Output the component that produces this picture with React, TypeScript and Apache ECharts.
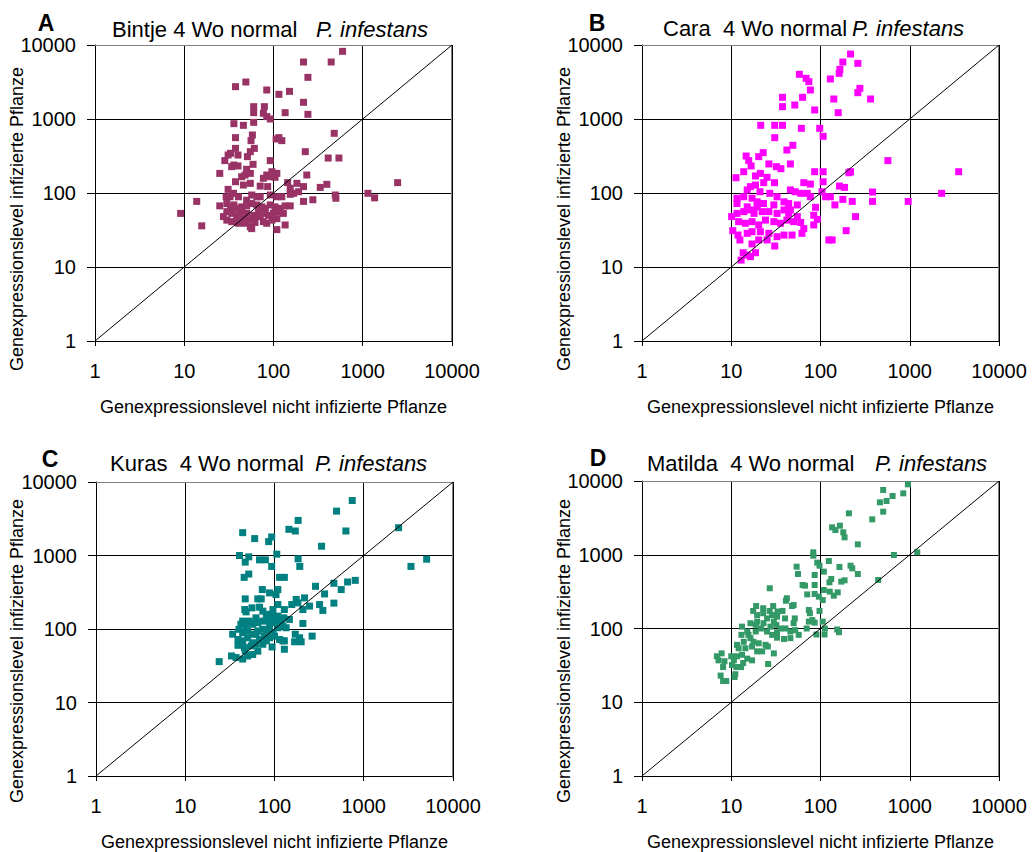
import React, { useEffect, useRef } from "react";
import * as echarts from "echarts";

// ---------- data ----------
const AXIS_MIN = 1;
const AXIS_MAX = 10000;
const DIAGONAL = [
  [1, 1],
  [10000, 10000],
];
const PANEL_LETTERS = ["A", "B", "C", "D"];
const CULTIVAR_TITLES = ["Bintje 4 Wo normal", "Cara  4 Wo normal", "Kuras  4 Wo normal", "Matilda  4 Wo normal"];
const PATHOGEN = "P. infestans";
const X_TITLE = "Genexpressionslevel nicht infizierte Pflanze";
const Y_TITLE = "Genexpressionslevel infizierte Pflanze";

const BINTJE = [
  [594, 8210], [217, 5890], [443, 5890], [243, 3656], [37.5, 2735], [49, 3162], [84, 2466], [115, 2155], [151, 2363], [217, 1679],
  [60, 1468], [79, 1468], [60, 1218], [77, 1194], [84, 1077], [92, 1000], [135, 1218], [243, 1157], [36, 865], [46, 821], [60, 901],
  [37.5, 560], [58, 608], [56, 510], [107, 537], [124, 510], [115, 560], [37.5, 401], [61, 401], [55, 362], [33, 344], [31, 326], [40, 326], [51, 310],
  [28.5, 274], [92, 274], [59, 244], [36, 239], [34, 227], [40, 232], [50, 209], [479, 640], [227, 362], [410, 297], [541, 297],
  [25, 184], [44, 166], [48, 175], [55, 184], [96, 194], [109, 184], [84, 175], [92, 166], [77, 158], [104, 163], [236, 175],
  [37.5, 142], [46, 128], [55, 135], [71, 124], [86, 122], [144, 138], [183, 135], [217, 122], [154, 116], [168, 99], [191, 104], [334, 119], [396, 131],
  [2459, 138], [31, 112], [29.5, 89], [35.6, 99], [40.5, 89], [57, 94], [71, 89], [92, 94], [109, 89], [124, 89], [154, 96],
  [492, 94], [500, 85], [1143, 99], [1358, 86], [13.8, 77], [217, 77], [276, 81], [9.1, 53], [15.7, 36],
  [25, 67], [30, 72], [33, 65], [36, 69], [39, 62], [44, 65], [50, 67], [57, 72], [65, 69], [74, 65], [81, 62], [92, 69], [104, 65], [119, 62], [135, 67], [154, 67],
  [30, 56], [34, 53], [39, 50], [44, 56], [50, 53], [60, 50], [68, 56], [77, 53], [88, 50], [100, 53], [114, 56], [129, 53],
  [30, 43], [34, 41], [39, 43], [46, 41], [52, 43], [60, 45], [77, 41], [84, 39], [96, 43], [109, 45], [135, 37], [40.5, 39], [48, 39], [55, 35], [57, 33],
  [109, 32], [27.5, 48], [62, 40], [40.5, 48], [71, 48], [44, 45], [32.6, 89], [65, 89], [50, 80],
];

const CARA = [
  [217, 7550], [178, 5890], [262, 5650], [165, 4690], [162, 4140], [58, 4018], [69, 3548], [74, 3198], [77, 2466], [129, 3475],
  [276, 2596], [262, 2269], [364, 1862], [141, 1862], [37.5, 1963], [37.5, 1468], [51.5, 1545], [63, 1963], [86, 1324], [158, 1218],
  [21.4, 821], [30.7, 821], [37.5, 821], [61, 748], [98, 748], [107, 583], [30.7, 560], [49, 441], [42, 381], [22.8, 351], [20.3, 310], [14.7, 316], [15.7, 274], [16.7, 232], [26.4, 247], [32, 227], [36, 213], [46, 247],
  [569, 274], [3532, 194], [11.3, 161], [13.8, 194], [18.7, 170], [21.2, 184], [25.2, 163], [23.1, 138], [30.5, 138],
  [86, 194], [107, 194], [107, 142], [77, 132], [65, 138], [208, 188], [217, 194], [163, 124], [186, 119],
  [383, 103], [383, 77], [962, 77], [2275, 99], [227, 77], [178, 82], [145, 69],
  [15.1, 110], [11.6, 85], [13.8, 89], [17.1, 85], [19.5, 76], [16.4, 122], [18.7, 128],
  [46, 110], [52, 104], [60, 99], [71, 99], [77, 89], [104, 104], [114, 89], [129, 89],
  [39, 76], [44, 72], [55, 69], [88, 64], [247, 48],
  [10.1, 48], [11.6, 53], [13.8, 56], [16.4, 59], [19.5, 65], [22.2, 56], [26.4, 56], [32.6, 53], [39, 59], [44, 53],
  [12.1, 41], [14.4, 39], [17.1, 41], [20.3, 37], [24.2, 43], [30, 41], [35.6, 39], [42, 43], [50, 41], [60, 40], [84, 50], [92, 44], [84, 37],
  [10.4, 31], [11.9, 27], [15.1, 28.5], [17.1, 30], [21.2, 30], [26.4, 28.5], [32.6, 25.7], [39, 27], [48, 27], [62, 28.5], [65, 33],
  [12.5, 23.2], [17.1, 20.5], [20.3, 23.2], [25.2, 23.2], [30.7, 19.2], [124, 23.2], [135, 23.2], [194, 31],
  [13.6, 15.6], [16.4, 13.8], [18.7, 15.6], [12.9, 12.4], [15.1, 14.5],
  [11.6, 72], [15.1, 65], [18, 53], [23, 72], [30, 69], [32.6, 89], [27, 99], [21, 104], [46, 59], [55, 48],
];

const KURAS = [
  [743, 5595], [496, 4018], [184, 3000], [145, 2270], [171, 2155], [631, 2155], [2459, 2389],
  [44, 2046], [60, 1698], [93, 1787], [86, 1546], [337, 1337],
  [40.5, 1000], [51.5, 959], [47, 813], [68, 873], [79, 873], [106, 1042], [184, 902], [192, 710], [93, 710], [5070, 891], [3381, 710],
  [45.7, 504], [51.5, 559], [114, 504], [129, 504],
  [73, 344], [88, 310], [109, 344], [104, 294], [47, 257], [65, 257], [71, 257],
  [288, 381], [463, 419], [659, 436], [803, 459], [559, 344], [364, 300],
  [156, 215], [175, 252], [217, 265], [183, 227], [208, 184], [247, 205], [320, 215], [348, 179], [463, 225],
  [46.5, 184], [48, 171], [56, 194], [68, 198], [74, 175], [96, 184], [109, 215], [129, 184], [147, 135], [127, 142],
  [208, 119], [264, 80], [171, 85], [191, 76], [168, 67], [199, 67],
  [42, 116], [48, 110], [57, 116], [65, 122], [74, 128], [84, 135], [96, 142], [109, 150],
  [34, 85], [40, 99], [44, 89], [50, 94], [57, 85], [65, 94], [74, 99], [84, 94], [96, 89], [109, 104], [124, 110], [135, 104],
  [39, 72], [44, 69], [50, 76], [57, 65], [68, 72], [77, 80], [88, 76], [100, 80], [114, 72], [129, 69],
  [39, 60], [46, 56], [55, 59], [62, 62], [74, 62], [94, 57], [129, 53], [124, 69],
  [33, 43], [37, 41], [44, 39], [50, 43], [57, 45], [65, 50], [47, 50], [24, 36],
  [88, 110], [100, 122], [81, 158], [91, 158], [62, 142], [52, 128], [119, 128], [62, 85], [81, 69], [44, 128],
];

const MATILDA = [
  [954, 9015], [504, 7550], [642, 6265], [846, 6800], [550, 5355], [463, 5140], [504, 3838],
  [208, 3645], [380, 3020], [135, 2355], [165, 2478], [180, 2014], [186, 1722], [147, 2166],
  [262, 1384], [83, 1079], [83, 972], [664, 993], [1213, 1079],
  [92, 781], [97.5, 711], [124, 823], [163, 682], [217, 711], [227, 654], [262, 548], [54, 689], [56, 548], [109, 590],
  [86, 531], [63, 389], [67, 381], [86, 389], [126, 423], [132, 469], [171, 432], [186, 450], [109, 333], [127, 316], [156, 309], [141, 279], [443, 455],
  [27, 351], [71, 290], [86, 294], [96, 270], [106, 243],
  [41, 238], [42, 257], [50, 208], [48, 202], [19, 202], [17.6, 173], [22.8, 188], [22.8, 161], [29.5, 202], [27, 173],
  [74, 178], [76, 161], [97.5, 173], [81, 130], [86, 120], [106, 124], [112, 100], [90, 83], [111, 83], [70, 100], [154, 97], [161, 89],
  [37.5, 173], [32.6, 145], [40, 137], [51.5, 137], [28.7, 152], [25.2, 137], [19.5, 124], [16.4, 118], [13.2, 106], [15.1, 91], [13, 82],
  [32, 112], [35.6, 100], [40.5, 100], [46, 91], [52, 95], [57, 82], [46, 74], [39, 72], [32.6, 75], [28.7, 82], [25.2, 91], [21.6, 100], [18.8, 91],
  [16.4, 74], [13.8, 66], [12.1, 54], [14.4, 54], [17.1, 57], [20.3, 63], [24.2, 60], [22.2, 49], [30, 46], [25.7, 57], [19.5, 49],
  [6.9, 42], [7.8, 46], [7.2, 37], [8.4, 36], [10, 42], [10.7, 37], [11.6, 42], [13.2, 44], [15.1, 39], [17.1, 37],
  [8.1, 30], [10.2, 32], [11.4, 30], [12.9, 30], [13.6, 34], [25.9, 33],
  [7.6, 23], [8.1, 19.4], [8.8, 19.4], [10.9, 22], [11.1, 24],
  [32.6, 89], [27.5, 106], [18.8, 112], [23, 118], [30, 124], [15.6, 82], [11.6, 60], [17.7, 66], [33, 170], [50, 118], [19.5, 152], [74, 124],
];

const PANEL_DATA = [BINTJE, CARA, KURAS, MATILDA];

// ---------- styles / layout ----------
const COLORS = ["#993366", "#FF00FF", "#008080", "#339966"];
const MARKER_SIZES = [7, 7, 7, 6];
const FONT = "'Liberation Sans', Arial, Helvetica, sans-serif";
const LAYOUT = [
  { left: 95, top: 45, width: 357, height: 296, letterX: 46, letterY: 23, titleX: 112, italicX: 316, titleY: 29, yTitleX: 17, yTitleY: 219 },
  { left: 642, top: 45, width: 357, height: 296, letterX: 597, letterY: 23, titleX: 663, italicX: 852, titleY: 28, yTitleX: 564, yTitleY: 219 },
  { left: 96, top: 482, width: 357, height: 296, letterX: 50, letterY: 459, titleX: 110, italicX: 315, titleY: 463, yTitleX: 17, yTitleY: 651 },
  { left: 642, top: 481, width: 357, height: 295, letterX: 598, letterY: 458, titleX: 647, italicX: 875, titleY: 463, yTitleX: 564, yTitleY: 651 },
];

const fmt = (v: number) => String(Math.round(v));

function buildOption() {
  const grid = LAYOUT.map((l) => ({ left: l.left, top: l.top, width: l.width, height: l.height, containLabel: false }));

  const xAxis = LAYOUT.map((_, i) => ({
    type: "log",
    logBase: 10,
    gridIndex: i,
    min: AXIS_MIN,
    max: AXIS_MAX,
    name: X_TITLE,
    nameLocation: "middle",
    nameGap: 57,
    nameTextStyle: { fontFamily: FONT, fontSize: 18, color: "#000" },
    axisLine: { show: true, onZero: false, lineStyle: { color: "#000", width: 1 } },
    axisTick: { show: true, inside: false, length: 5, lineStyle: { color: "#000", width: 1 } },
    minorTick: { show: false },
    axisLabel: { margin: 20, fontSize: 20, fontFamily: FONT, color: "#000", formatter: fmt, showMinLabel: true, showMaxLabel: true },
    splitLine: { show: true, lineStyle: { color: "#000", width: 1 } },
  }));

  const yAxis = LAYOUT.map((_, i) => ({
    type: "log",
    logBase: 10,
    gridIndex: i,
    min: AXIS_MIN,
    max: AXIS_MAX,
    axisLine: { show: true, onZero: false, lineStyle: { color: "#000", width: 1 } },
    axisTick: { show: true, inside: false, length: 8, lineStyle: { color: "#000", width: 1 } },
    minorTick: { show: false },
    axisLabel: { margin: 19, fontSize: 20, lineHeight: 18, fontFamily: FONT, color: "#000", formatter: fmt, showMinLabel: true, showMaxLabel: true },
    splitLine: { show: true, lineStyle: { color: "#000", width: 1 } },
  }));

  const series: any[] = [];
  PANEL_DATA.forEach((data, i) => {
    series.push({
      type: "scatter",
      xAxisIndex: i,
      yAxisIndex: i,
      data,
      symbol: "rect",
      symbolSize: MARKER_SIZES[i],
      itemStyle: { color: COLORS[i], opacity: 1 },
      z: 3,
    });
    series.push({
      type: "line",
      xAxisIndex: i,
      yAxisIndex: i,
      data: DIAGONAL,
      symbol: "none",
      silent: true,
      lineStyle: { color: "#000", width: 1 },
      z: 4,
    });
  });

  const graphic: any[] = [];
  LAYOUT.forEach((l, i) => {
    graphic.push({
      type: "text",
      x: l.letterX,
      y: l.letterY,
      style: {
        text: PANEL_LETTERS[i],
        fill: "#000",
        fontSize: 23,
        lineHeight: 17,
        fontWeight: "bold",
        fontFamily: FONT,
        align: "center",
        verticalAlign: "middle",
        textAlign: "center",
        textVerticalAlign: "middle",
      },
    });
    graphic.push({
      type: "text",
      x: l.titleX,
      y: l.titleY,
      style: {
        text: CULTIVAR_TITLES[i],
        fill: "#000",
        fontSize: 22,
        lineHeight: 18,
        fontFamily: FONT,
        align: "left",
        verticalAlign: "middle",
        textAlign: "left",
        textVerticalAlign: "middle",
      },
    });
    graphic.push({
      type: "text",
      x: l.italicX,
      y: l.titleY,
      style: {
        text: PATHOGEN,
        fill: "#000",
        fontSize: 22,
        lineHeight: 18,
        fontStyle: "italic",
        fontFamily: FONT,
        align: "left",
        verticalAlign: "middle",
        textAlign: "left",
        textVerticalAlign: "middle",
      },
    });
    graphic.push({
      type: "text",
      x: l.yTitleX,
      y: l.yTitleY,
      rotation: Math.PI / 2,
      style: {
        text: Y_TITLE,
        fill: "#000",
        fontSize: 18,
        fontFamily: FONT,
        align: "center",
        verticalAlign: "middle",
        textAlign: "center",
        textVerticalAlign: "middle",
      },
    });
    graphic.push({
      type: "polyline",
      z: 2,
      silent: true,
      shape: {
        points: [
          [l.left, l.top + 0.5],
          [l.left + l.width - 0.5, l.top + 0.5],
          [l.left + l.width - 0.5, l.top + l.height],
        ],
      },
      style: { stroke: "#808080", lineWidth: 1, fill: null },
    });
  });

  return {
    animation: false,
    backgroundColor: "#ffffff",
    textStyle: { fontFamily: FONT },
    grid,
    xAxis,
    yAxis,
    series,
    graphic,
  };
}

export default function App() {
  const ref = useRef<HTMLDivElement>(null);
  useEffect(() => {
    document.body.style.margin = "0";
    if (!ref.current) return;
    const chart = echarts.init(ref.current, undefined, { renderer: "svg" });
    chart.setOption(buildOption() as any);
    return () => {
      chart.dispose();
    };
  }, []);
  return <div ref={ref} style={{ position: "absolute", left: 0, top: 0, width: 1032, height: 852, background: "#fff" }} />;
}
